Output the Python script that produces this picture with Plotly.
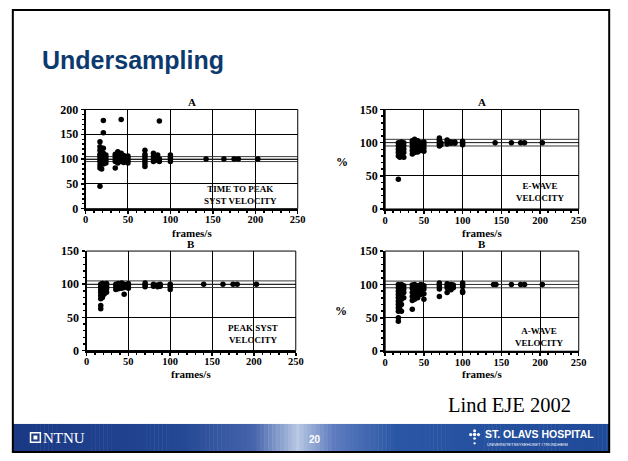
import plotly.graph_objects as go

W, H = 628, 461

# ---------------- data ----------------
ref_levels = [95, 100, 105]
x_range = [0, 250]

ttp_rates = [17, 19, 21, 24, 35, 38, 42, 45, 50, 70, 80, 85, 87, 100, 142, 163, 175, 180, 203]
ttp_values = [
    [45, 82, 88, 95, 100, 105, 110, 118, 125, 135],
    [80, 92, 98, 103, 108, 115, 120],
    [90, 95, 100, 105, 112, 122, 153, 178],
    [92, 97, 102, 108],
    [82, 95, 100, 105, 110],
    [92, 98, 103, 108, 115],
    [95, 100, 105, 112, 180],
    [93, 100, 107],
    [92, 97, 102, 106],
    [85, 90, 95, 100, 105, 110, 118],
    [95, 100, 105, 112],
    [97, 102, 108],
    [95, 100, 177],
    [95, 100, 104, 108],
    [100], [100], [100], [100], [100],
]

ewave_rates = [17, 19, 21, 24, 35, 38, 42, 46, 50, 70, 72, 80, 85, 90, 100, 142, 163, 175, 180, 203]
ewave_values = [
    [45, 80, 85, 90, 95, 100],
    [78, 83, 88, 93, 98],
    [80, 86, 92, 97, 101],
    [78, 85, 90, 95, 100],
    [83, 88, 93, 98, 103],
    [85, 90, 96, 101, 105],
    [86, 92, 98, 103],
    [88, 95, 100],
    [87, 92, 97, 101],
    [95, 98, 101, 104, 107],
    [97, 100],
    [98, 101, 104],
    [99, 101],
    [99, 101],
    [97, 99, 102],
    [100], [100], [100], [100], [100],
]

psv_rates = [17, 19, 21, 24, 35, 38, 42, 45, 50, 70, 80, 85, 88, 100, 140, 163, 175, 180, 203]
psv_values = [
    [63, 68, 78, 83, 88, 92, 96, 100],
    [80, 85, 90, 94, 98, 101],
    [85, 90, 95, 100],
    [88, 93, 97, 101],
    [92, 96, 100],
    [93, 97, 101],
    [94, 98, 102],
    [85, 95, 100],
    [94, 98, 101],
    [96, 99, 102],
    [97, 100],
    [96, 99],
    [97, 100],
    [92, 97, 100],
    [100], [100], [100], [100], [100],
]

awave_rates = [17, 19, 21, 24, 35, 38, 42, 46, 50, 70, 80, 85, 88, 100, 140, 143, 163, 175, 180, 203]
awave_values = [
    [45, 50, 60, 65, 70, 75, 80, 85, 90, 95, 100],
    [62, 68, 75, 82, 88, 93, 98],
    [60, 70, 78, 85, 90, 95, 100],
    [80, 88, 93, 98],
    [63, 76, 82, 88, 94, 99],
    [78, 85, 90, 96, 100],
    [80, 88, 93, 98],
    [85, 92, 97, 100],
    [78, 86, 93, 98],
    [82, 93, 97, 100, 102],
    [88, 95, 98, 101],
    [92, 97, 100],
    [95, 99],
    [88, 90, 97, 100, 102],
    [100], [100], [100], [100], [100], [100],
]

panel_letters = ["A", "A", "B", "B"]
panel_labels = ["TIME TO PEAK<br>SYST VELOCITY", "E-WAVE<br>VELOCITY",
                "PEAK SYST<br>VELOCITY", "A-WAVE<br>VELOCITY"]
y_maxima = [200, 150, 150, 150]
x_title = "frames/s"

# ---------------- layout helpers ----------------
def px_x(p):
    return p / W

def px_y(p):
    return 1 - p / H

SERIF = "Liberation Serif"
SANS = "Liberation Sans"

def note(text, x, y, font, xanchor="center", yanchor="middle", **kw):
    d = dict(text=text, xref="paper", yref="paper", x=px_x(x), y=px_y(y),
             xanchor=xanchor, yanchor=yanchor, showarrow=False, font=font, borderpad=0)
    d.update(kw)
    return d

panels = [
    dict(rates=ttp_rates, vals=ttp_values, xd=(84, 300), yd=(105.7, 208.0), pct=None,
         lab=(242, 194), xt=233),
    dict(rates=ewave_rates, vals=ewave_values, xd=(389, 586), yd=(105.7, 208.3), pct=(345, 160),
         lab=(547, 191), xt=233),
    dict(rates=psv_rates, vals=psv_values, xd=(85, 298), yd=(251.7, 354.3), pct=None,
         lab=(254, 337), xt=378),
    dict(rates=awave_rates, vals=awave_values, xd=(389, 586), yd=(251.7, 355.0), pct=(344, 314),
         lab=(546, 340), xt=378),
]

fig = go.Figure()
annotations = []
shapes = []

for i, p in enumerate(panels):
    n = "" if i == 0 else str(i + 1)
    xa, ya = "x" + n, "y" + n
    xs, ys = [], []
    for r, vals in zip(p["rates"], p["vals"]):
        for v in vals:
            xs.append(r)
            ys.append(v)
    for lvl in ref_levels:
        fig.add_trace(go.Scatter(x=x_range, y=[lvl, lvl], mode="lines",
                                 line=dict(color="#3a3a3a", width=1),
                                 xaxis=xa, yaxis=ya, showlegend=False, hoverinfo="skip"))
    fig.add_trace(go.Scatter(x=xs, y=ys, mode="markers",
                             marker=dict(color="black", size=5.5, line=dict(width=0)),
                             xaxis=xa, yaxis=ya, showlegend=False))
    ymax = y_maxima[i]
    axis_common = dict(showline=True, linecolor="black", linewidth=2,
                       showgrid=True, gridcolor="black", gridwidth=1,
                       zeroline=False, ticks="outside", ticklen=3, tickcolor="black",
                       tickwidth=1.5,
                       minor=dict(ticks="outside", ticklen=2, dtick=10, tickcolor="black",
                                  showgrid=False))
    fig.update_layout(**{
        ("xaxis" + n): dict(domain=[px_x(p["xd"][0]), px_x(p["xd"][1])], anchor=ya,
                            range=x_range, tickvals=[0, 50, 100, 150, 200, 250],
                            ticklabelstandoff=-3,
                            tickfont=dict(family=SERIF, size=10.5, color="black", weight="bold"),
                            **axis_common),
        ("yaxis" + n): dict(domain=[px_y(p["yd"][1]), px_y(p["yd"][0])], anchor=xa,
                            range=[0, ymax], tickvals=list(range(0, ymax + 1, 50)),
                            tickfont=dict(family=SERIF, size=12, color="black", weight="bold"),
                            **axis_common),
    })
    shapes.append(dict(type="rect", xref=xa + " domain", yref=ya + " domain",
                       x0=0, x1=1, y0=0, y1=1, line=dict(color="black", width=1)))
    annotations.append(dict(text=panel_letters[i], xref=xa + " domain", yref=ya + " domain",
                            x=0.5, y=1, xanchor="center", yanchor="bottom", yshift=0,
                            showarrow=False, borderpad=0,
                            font=dict(family=SERIF, size=11, color="black", weight="bold")))
    annotations.append(note(x_title, (p["xd"][0] + p["xd"][1]) / 2, p["xt"],
                            dict(family=SERIF, size=11, color="black", weight="bold")))
    annotations.append(note(panel_labels[i], p["lab"][0], p["lab"][1],
                            dict(family=SERIF, size=9, color="black", weight="bold"),
                            align="center"))
    if p["pct"]:
        annotations.append(note("%", p["pct"][0], p["pct"][1],
                                dict(family=SERIF, size=12, color="black", weight="bold")))

# ---------------- slide decorations ----------------
keys = [(10, (26, 56, 132)), (180, (36, 72, 148)), (255, (70, 100, 172)),
        (300, (185, 200, 228)), (335, (95, 125, 190)), (400, (42, 86, 165)),
        (617, (30, 74, 152))]

def col(x):
    for (a, ca), (b, cb) in zip(keys[:-1], keys[1:]):
        if a <= x <= b:
            t = (x - a) / (b - a)
            c = [round(ca[k] + (cb[k] - ca[k]) * t) for k in range(3)]
            return "rgb(%d,%d,%d)" % tuple(c)
    return "rgb(30,74,152)"

step = 4
x = 10
while x < 617:
    x2 = min(x + step, 617)
    shapes.append(dict(type="rect", xref="paper", yref="paper", layer="below",
                       x0=px_x(x), x1=px_x(x2 + 0.5), y0=px_y(458), y1=px_y(430),
                       fillcolor=col(x + step / 2), line=dict(width=0)))
    x = x2

shapes.append(dict(type="rect", xref="paper", yref="paper", x0=px_x(10), x1=px_x(617),
                   y0=px_y(459), y1=px_y(3), line=dict(color="black", width=2)))

shapes.append(dict(type="rect", xref="paper", yref="paper", x0=px_x(28), x1=px_x(38),
                   y0=px_y(449), y1=px_y(439), fillcolor="rgb(30,60,130)",
                   line=dict(color="white", width=1.5)))
shapes.append(dict(type="rect", xref="paper", yref="paper", x0=px_x(31), x1=px_x(35),
                   y0=px_y(446), y1=px_y(442), fillcolor="white", line=dict(width=0)))
for (cx, cy, r) in [(480, 437, 1.6), (476, 441, 1.6), (484, 441, 1.6), (480, 441, 1.8),
                    (480, 445, 1.4), (480, 450, 1.2)]:
    shapes.append(dict(type="circle", xref="paper", yref="paper",
                       x0=px_x(cx - r), x1=px_x(cx + r), y0=px_y(cy + r), y1=px_y(cy - r),
                       fillcolor="white", line=dict(width=0)))

annotations += [
    note("Undersampling", 39, 55, dict(family=SANS, size=25, color="#0d3a6e", weight="bold"),
         xanchor="left"),
    note("Lind EJE 2002", 516, 410, dict(family=SERIF, size=20.5, color="black")),
    note("NTNU", 40, 444, dict(family=SERIF, size=15, color="white"), xanchor="left"),
    note("20", 318, 446, dict(family=SANS, size=10, color="white", weight="bold")),
    note("ST. OLAVS HOSPITAL", 490, 440,
         dict(family=SANS, size=10.5, color="white", weight="bold"), xanchor="left"),
    note("UNIVERSITETSSYKEHUSET I TRONDHEIM", 492, 451,
         dict(family=SANS, size=4, color="white"), xanchor="left"),
]

fig.update_layout(width=W, height=H, margin=dict(l=0, r=0, t=0, b=0),
                  paper_bgcolor="white", plot_bgcolor="white",
                  showlegend=False, annotations=annotations, shapes=shapes)

fig.write_html("out.html", config=dict(displayModeBar=False, staticPlot=True),
               post_script="document.documentElement.style.margin='0';"
                           "document.body.style.margin='0';"
                           "document.body.style.overflow='hidden';")
